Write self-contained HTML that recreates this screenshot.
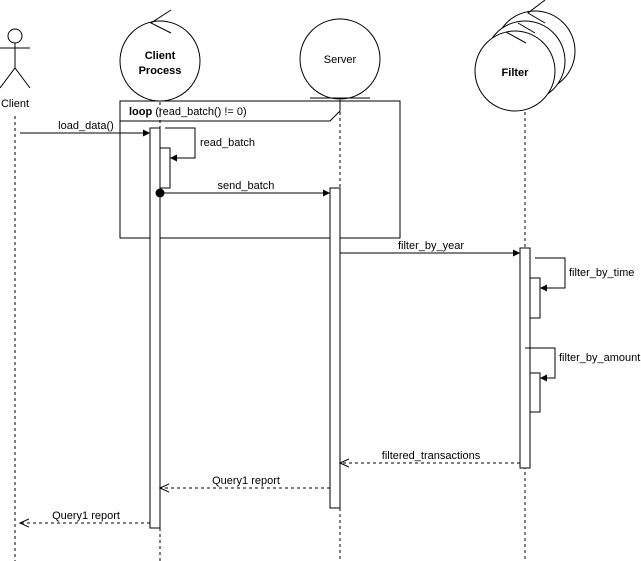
<!DOCTYPE html>
<html><head><style>body{margin:0;background:#fff}svg{display:block}text{font-family:"Liberation Sans",sans-serif;font-size:11px;fill:#000}</style></head><body>
<svg width="641" height="561" viewBox="0 0 641 561" xmlns="http://www.w3.org/2000/svg">
<defs>
<marker id="a" markerWidth="8" markerHeight="8" refX="7" refY="4" orient="auto" markerUnits="userSpaceOnUse"><path d="M0,0.5 L7,4 L0,7.5 Z" fill="#000"/></marker>
<marker id="o" markerWidth="10" markerHeight="10" refX="9" refY="5" orient="auto" markerUnits="userSpaceOnUse"><path d="M0,1 L9,5 L0,9" fill="none" stroke="#000"/></marker>
</defs>
<g stroke="#000" fill="none">
<!-- lifelines -->
<g stroke-dasharray="3,3">
<line x1="15" y1="116" x2="15" y2="561"/>
<line x1="160" y1="102" x2="160" y2="561"/>
<line x1="340" y1="100" x2="340" y2="561"/>
<line x1="525" y1="112" x2="525" y2="561"/>
</g>
<!-- actor -->
<circle cx="15" cy="36" r="7" fill="#fff"/>
<line x1="15" y1="43" x2="15" y2="68"/>
<line x1="0" y1="48" x2="30" y2="48"/>
<path d="M0,88 L15,68 L30,88"/>
<!-- client process -->
<circle cx="160" cy="61" r="40" fill="#fff"/>
<path d="M171,10 L151,23 L171,33"/>
<!-- server -->
<circle cx="340" cy="59" r="40" fill="#fff"/>
<line x1="310" y1="98" x2="370" y2="98"/>
<!-- filter -->
<circle cx="535" cy="51" r="40" fill="#fff"/>
<path d="M545,0 L528,13 L545,23"/>
<circle cx="525" cy="61" r="40" fill="#fff"/>
<path d="M518,23 L535,33"/>
<circle cx="515" cy="71" r="40" fill="#fff"/>
<path d="M506,32 L526,43"/>
<!-- loop frame -->
<rect x="120" y="101" width="280" height="137"/>
<path d="M120,121 L330,121 L340,111 L340,101"/>
<!-- activations -->
<rect x="150" y="128" width="10" height="400" fill="#fff"/>
<rect x="160" y="148" width="10" height="40" fill="#fff"/>
<rect x="330" y="188" width="10" height="320" fill="#fff"/>
<rect x="520" y="248" width="10" height="220" fill="#fff"/>
<rect x="530" y="278" width="10" height="40" fill="#fff"/>
<rect x="530" y="373" width="10" height="39" fill="#fff"/>
<!-- messages -->
<line x1="20" y1="133" x2="150" y2="133" marker-end="url(#a)"/>
<path d="M165,128 L195,128 L195,158 L170,158" marker-end="url(#a)"/>
<line x1="160" y1="193" x2="330" y2="193" marker-end="url(#a)"/>
<circle cx="160" cy="193" r="4" fill="#000"/>
<line x1="340" y1="253" x2="520" y2="253" marker-end="url(#a)"/>
<path d="M535,258 L565,258 L565,288 L540,288" marker-end="url(#a)"/>
<path d="M525,348 L555,348 L555,378 L540,378" marker-end="url(#a)"/>
<line x1="520" y1="463" x2="340" y2="463" stroke-dasharray="3,3" marker-end="url(#o)"/>
<line x1="330" y1="488" x2="160" y2="488" stroke-dasharray="3,3" marker-end="url(#o)"/>
<line x1="150" y1="523" x2="20" y2="523" stroke-dasharray="3,3" marker-end="url(#o)"/>
</g>
<text x="15" y="107" text-anchor="middle" font-size="12">Client</text>
<text x="160" y="59" text-anchor="middle" font-weight="bold" font-size="12">Client</text>
<text x="160" y="74" text-anchor="middle" font-weight="bold" font-size="12">Process</text>
<text x="340" y="63" text-anchor="middle" font-size="12">Server</text>
<text x="515" y="76" text-anchor="middle" font-weight="bold" font-size="12">Filter</text>
<text x="129" y="115" font-size="12"><tspan font-weight="bold">loop</tspan> (read_batch() != 0)</text>
<text x="86" y="129" text-anchor="middle">load_data()</text>
<text x="200" y="146">read_batch</text>
<text x="246" y="189" text-anchor="middle">send_batch</text>
<text x="431" y="249" text-anchor="middle">filter_by_year</text>
<text x="569" y="276">filter_by_time</text>
<text x="559" y="361">filter_by_amount</text>
<text x="431" y="459" text-anchor="middle">filtered_transactions</text>
<text x="246" y="484" text-anchor="middle">Query1 report</text>
<text x="86" y="519" text-anchor="middle">Query1 report</text>
</svg>
</body></html>
